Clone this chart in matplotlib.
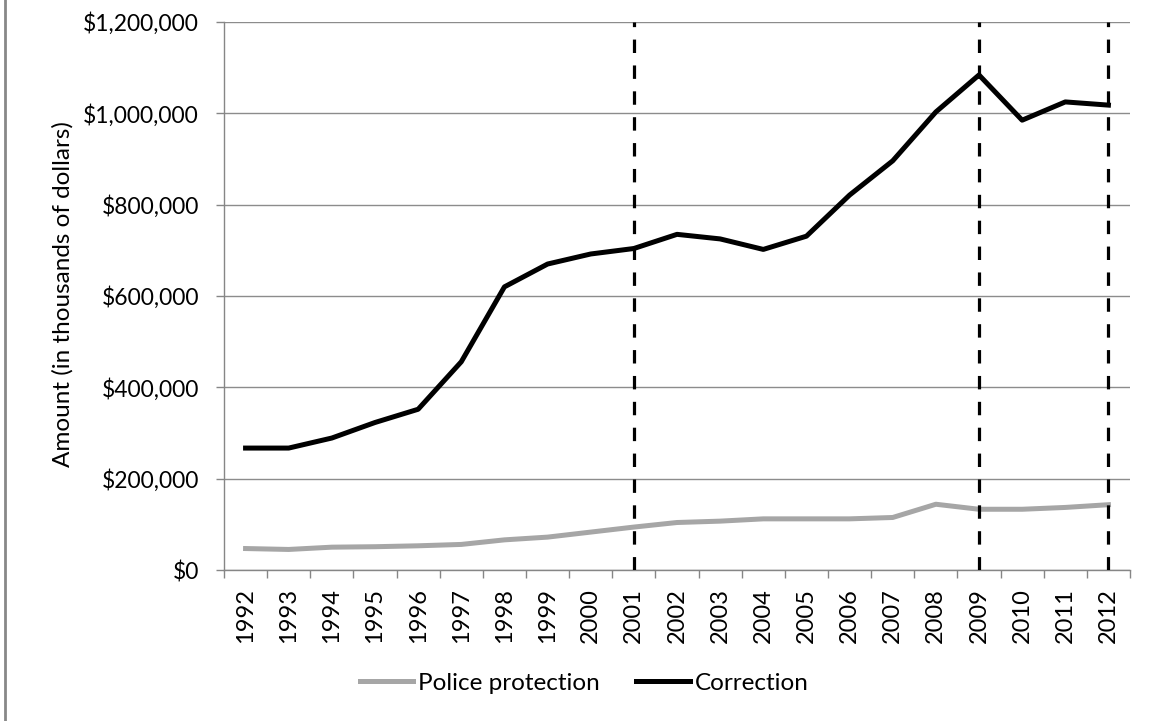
import matplotlib
matplotlib.use("Agg")
import matplotlib.pyplot as plt
from matplotlib.lines import Line2D

years = [str(y) for y in range(1992, 2013)]
police = [47000, 45000, 50000, 51000, 53000, 56000, 66000, 72000, 83000, 94000,
          104000, 107000, 112000, 112000, 112000, 115000, 144000, 133000, 133000, 137000, 143000]
correction = [267000, 267000, 289000, 323000, 352000, 456000, 620000, 670000, 692000, 704000,
              735000, 725000, 702000, 731000, 821000, 896000, 1003000, 1084000, 985000, 1025000, 1018000]
y_ticks = [0, 200000, 400000, 600000, 800000, 1000000, 1200000]
y_tick_labels = ["$0", "$200,000", "$400,000", "$600,000", "$800,000", "$1,000,000", "$1,200,000"]
marked_years = ["2001", "2009", "2012"]
series_names = ["Police protection", "Correction"]

plt.rcParams['font.family'] = ['Lato', 'DejaVu Sans']

fig = plt.figure(figsize=(11.54, 7.21), dpi=100)
ax = fig.add_axes([224/1154, 1-570/721, (1130-224)/1154, (570-22)/721])

x = list(range(len(years)))
ax.plot(x, police, color='#A6A6A6', lw=3.6, solid_joinstyle='round', label=series_names[0], zorder=3)
ax.plot(x, correction, color='black', lw=3.6, solid_joinstyle='round', label=series_names[1], zorder=3)

for yr in marked_years:
    ax.axvline(years.index(yr), color='black', lw=2.3, dashes=(4.2, 3.9), zorder=4)

ax.set_xlim(-0.5, len(years) - 0.5)
ax.set_ylim(0, 1200000)
ax.set_yticks(y_ticks)
ax.set_yticklabels(y_tick_labels, fontsize=16.5)
ax.set_xticks([i - 0.5 for i in range(len(years) + 1)], minor=False)
ax.set_xticklabels([])
ax.set_xticks(x, minor=True)
ax.set_xticklabels(years, minor=True, rotation=90, fontsize=17)
ax.tick_params(axis='x', which='major', length=6, color='#868686', width=1, direction='out')
ax.tick_params(axis='x', which='minor', length=0, pad=13)
ax.tick_params(axis='y', length=6, color='#868686', width=1, pad=12)

ax.grid(axis='y', color='#8C8C8C', lw=1)
ax.set_axisbelow(True)
for s in ['top', 'right']:
    ax.spines[s].set_visible(False)
for s in ['left', 'bottom']:
    ax.spines[s].set_color('#868686')
    ax.spines[s].set_linewidth(1)

ax.set_ylabel("Amount (in thousands of dollars)", fontsize=17.5)
ax.yaxis.set_label_coords((74 - 224) / 906, (570 - 294.5) / 548)

handles = [Line2D([], [], color='#A6A6A6', lw=3.6), Line2D([], [], color='black', lw=3.6)]
fig.legend(handles, series_names, loc='center', bbox_to_anchor=(584/1154, 1-683/721), ncol=2,
           frameon=False, fontsize=17.5, handlelength=2.2, handletextpad=0.2, columnspacing=1.5)

fig.add_artist(Line2D([5/1154, 5/1154], [0, 1], color='#888888', lw=2, transform=fig.transFigure))

fig.savefig("out.png", dpi=100, facecolor='white')
